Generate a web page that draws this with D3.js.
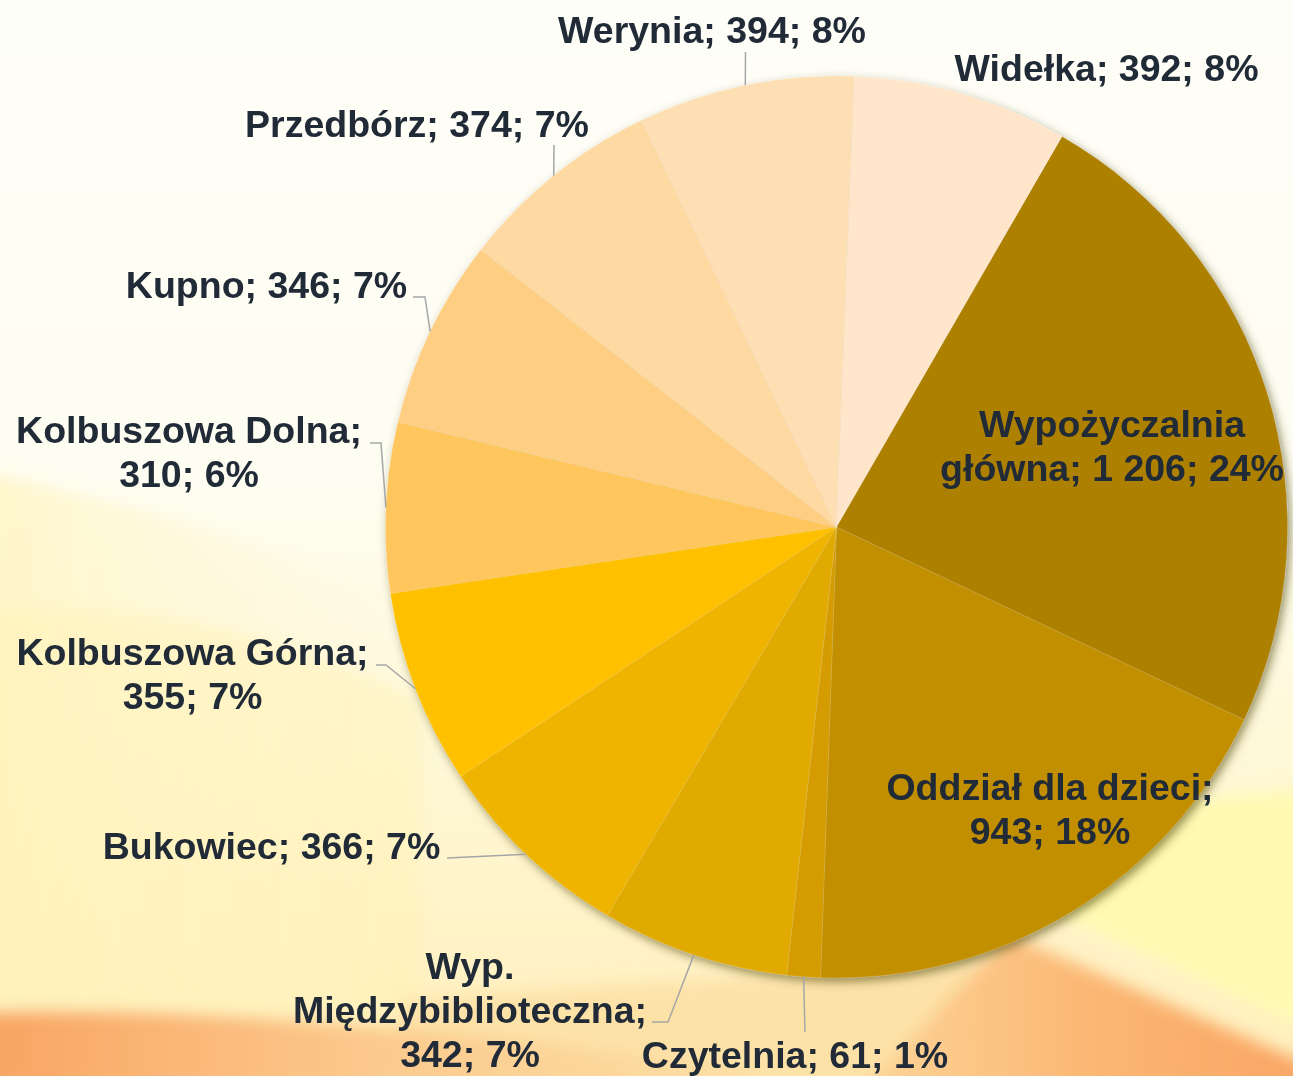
<!DOCTYPE html>
<html>
<head>
<meta charset="utf-8">
<script src="https://cdn.jsdelivr.net/npm/d3@7"></script>
<style>
  body { margin: 0; background: #fefef6; }
  .lbl { font-family: "Liberation Sans", Arial, sans-serif; font-weight: bold; font-size: 37.5px; fill: #212a37; }
</style>
</head>
<body>
<div id="chart"></div>
<script>
// data
var names = ["Wypożyczalnia główna", "Oddział dla dzieci", "Czytelnia", "Wyp. Międzybiblioteczna",
  "Bukowiec", "Kolbuszowa Górna", "Kolbuszowa Dolna", "Kupno", "Przedbórz", "Werynia", "Widełka"];
var values = [1206, 943, 61, 342, 366, 355, 310, 346, 374, 394, 392];
var percents = ["24%", "18%", "1%", "7%", "7%", "7%", "6%", "7%", "7%", "8%", "8%"];
var valueText = ["1 206", "943", "61", "342", "366", "355", "310", "346", "374", "394", "392"];
var labelLines = [
  ["Wypożyczalnia", "główna; 1 206; 24%"],
  ["Oddział dla dzieci;", "943; 18%"],
  ["Czytelnia; 61; 1%"],
  ["Wyp.", "Międzybiblioteczna;", "342; 7%"],
  ["Bukowiec; 366; 7%"],
  ["Kolbuszowa Górna;", "355; 7%"],
  ["Kolbuszowa Dolna;", "310; 6%"],
  ["Kupno; 346; 7%"],
  ["Przedbórz; 374; 7%"],
  ["Werynia; 394; 8%"],
  ["Widełka; 392; 8%"]
];
var colors = ["#ad8000", "#c18f00", "#d49c00", "#e1aa00", "#eeb400", "#ffc000",
  "#fec65c", "#fecf82", "#fed9a1", "#fedfb4", "#ffe6cb"];

var svgWidth = 1293;
var svgHeight = 1076;
var cx = 836.5, cy = 527, radius = 451;

// label placement (text centre x, first baseline y, leader knee / end)
var labelPos = [
  {x: 1112, y: 437},
  {x: 1050, y: 800},
  {x: 795, y: 1068, end: [805, 1032]},
  {x: 470, y: 979, knee: [668, 1022], end: [652, 1022]},
  {x: 271.5, y: 859, end: [447, 858]},
  {x: 192.5, y: 665, knee: [386, 665], end: [376, 665]},
  {x: 189, y: 443, knee: [381, 443], end: [370, 443]},
  {x: 266.5, y: 298, knee: [425, 297], end: [413, 297]},
  {x: 417, y: 137, end: [554, 145]},
  {x: 712, y: 43, end: [745.5, 52]},
  {x: 1106.5, y: 81}
];

var svg = d3.select("#chart")
  .append("svg")
  .attr("width", svgWidth)
  .attr("height", svgHeight);

var defs = svg.append("defs");

var bg = defs.append("linearGradient").attr("id", "bgGrad")
  .attr("x1", 0).attr("y1", 0).attr("x2", 0).attr("y2", 1);
bg.append("stop").attr("offset", "0").attr("stop-color", "#fefef8");
bg.append("stop").attr("offset", "0.45").attr("stop-color", "#fefdf1");
bg.append("stop").attr("offset", "0.75").attr("stop-color", "#fff7d2");
bg.append("stop").attr("offset", "1").attr("stop-color", "#ffefbc");

var og = defs.append("linearGradient").attr("id", "orangeGrad")
  .attr("x1", 0).attr("y1", 0).attr("x2", 1).attr("y2", 0);
og.append("stop").attr("offset", "0").attr("stop-color", "#f8a461");
og.append("stop").attr("offset", "0.5").attr("stop-color", "#fcc98c");
og.append("stop").attr("offset", "1").attr("stop-color", "#fde0a6");

var og2 = defs.append("linearGradient").attr("id", "orangeGrad2")
  .attr("x1", 0).attr("y1", 0).attr("x2", 1).attr("y2", 0);
og2.append("stop").attr("offset", "0").attr("stop-color", "#fdd597");
og2.append("stop").attr("offset", "0.5").attr("stop-color", "#fbb774");
og2.append("stop").attr("offset", "1").attr("stop-color", "#f9a563");

var ly = defs.append("linearGradient").attr("id", "leftYellow")
  .attr("x1", 0).attr("y1", 0).attr("x2", 1).attr("y2", 0);
ly.append("stop").attr("offset", "0").attr("stop-color", "#fff4c0");
ly.append("stop").attr("offset", "1").attr("stop-color", "#fff8d6").attr("stop-opacity", 0);

defs.append("filter").attr("id", "soft")
  .attr("x", "-20%").attr("y", "-20%").attr("width", "140%").attr("height", "140%")
  .append("feGaussianBlur").attr("stdDeviation", 8);

defs.append("filter").attr("id", "shadow")
  .attr("x", "-10%").attr("y", "-10%").attr("width", "120%").attr("height", "120%")
  .append("feDropShadow")
  .attr("dx", 3).attr("dy", 4).attr("stdDeviation", 5)
  .attr("flood-color", "#4a3c00").attr("flood-opacity", 0.55);

// background
svg.append("rect").attr("width", svgWidth).attr("height", svgHeight).attr("fill", "url(#bgGrad)");

var bgGroup = svg.append("g").attr("filter", "url(#soft)");
bgGroup.append("path")
  .attr("d", "M-20,470 L180,520 L420,600 L420,1090 L-20,1090 Z")
  .attr("fill", "url(#leftYellow)").attr("opacity", 0.8);
bgGroup.append("path")
  .attr("d", "M-20,610 C150,600 300,640 420,700 L420,1090 L-20,1090 Z")
  .attr("fill", "#fff2b6").attr("opacity", 0.5);
bgGroup.append("path")
  .attr("d", "M1310,790 L1190,800 L1040,905 L1310,1030 Z")
  .attr("fill", "#fffab2");
bgGroup.append("path")
  .attr("d", "M400,1000 C600,985 800,975 1000,960 L1060,990 L1060,1090 L400,1090 Z")
  .attr("fill", "#fde2a8");
bgGroup.append("path")
  .attr("d", "M-20,1012 C200,1005 450,1030 760,1070 L760,1090 L-20,1090 Z")
  .attr("fill", "url(#orangeGrad)");
bgGroup.append("path")
  .attr("d", "M860,1090 L1010,935 L1310,1065 L1310,1090 Z")
  .attr("fill", "url(#orangeGrad2)");

// pie
var pie = d3.pie().sort(null).startAngle(Math.PI / 6).endAngle(Math.PI / 6 + 2 * Math.PI);
var arcs = pie(values);
var arc = d3.arc().innerRadius(0).outerRadius(radius);

var pieGroup = svg.append("g")
  .attr("transform", `translate(${cx}, ${cy})`)
  .attr("filter", "url(#shadow)");

pieGroup.selectAll("path")
  .data(arcs)
  .enter()
  .append("path")
  .attr("d", arc)
  .attr("fill", (d, i) => colors[i])
  .attr("stroke", "rgba(255,255,255,0.18)")
  .attr("stroke-width", 0.7);

// leader lines
arcs.forEach(function(d, i) {
  var p = labelPos[i];
  if (!p.end) return;
  var mid = (d.startAngle + d.endAngle) / 2;
  var pts = [[cx + radius * Math.sin(mid), cy - radius * Math.cos(mid)]];
  if (p.knee) pts.push(p.knee);
  pts.push(p.end);
  svg.append("path")
    .attr("d", d3.line()(pts))
    .attr("fill", "none")
    .attr("stroke", "#a6a6a6")
    .attr("stroke-width", 1.5);
});

// labels
labelLines.forEach(function(lines, i) {
  var p = labelPos[i];
  var t = svg.append("text")
    .attr("class", "lbl")
    .attr("text-anchor", "middle");
  lines.forEach(function(s, k) {
    t.append("tspan").attr("x", p.x).attr("y", p.y + k * 44).text(s);
  });
});
</script>
</body>
</html>
